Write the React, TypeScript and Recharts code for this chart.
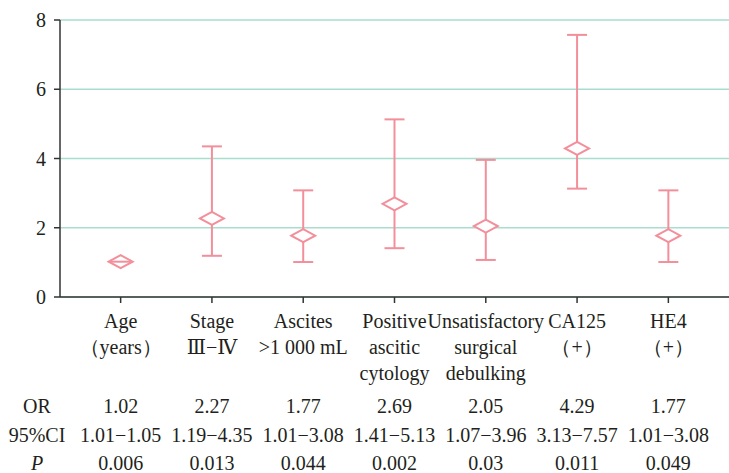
import React from "react";
import { ScatterChart, Scatter, XAxis, YAxis, CartesianGrid, ErrorBar } from "recharts";

const categories = ["Age", "Stage", "Ascites", "Positive", "Unsatisfactory", "CA125", "HE4"];
const labelLines: string[][] = [
  ["Age", "（years）"],
  ["Stage", "Ⅲ−Ⅳ"],
  ["Ascites", ">1 000 mL"],
  ["Positive", "ascitic", "cytology"],
  ["Unsatisfactory", "surgical", "debulking"],
  ["CA125", "（+）"],
  ["HE4", "（+）"],
];
const orValues = [1.02, 2.27, 1.77, 2.69, 2.05, 4.29, 1.77];
const ciLow = [1.01, 1.19, 1.01, 1.41, 1.07, 3.13, 1.01];
const ciHigh = [1.05, 4.35, 3.08, 5.13, 3.96, 7.57, 3.08];
const pValues = ["0.006", "0.013", "0.044", "0.002", "0.03", "0.011", "0.049"];
const rowLabels = ["OR", "95%CI", "P"];
const yTicks = [0, 2, 4, 6, 8];

const PINK = "#f38f9b";
const TEAL = "#a9ddd0";
const AXIS = "#333333";
const TEXT = "#231f20";
const FONT = "'Liberation Serif', 'Times New Roman', 'DejaVu Serif', serif";

const data = categories.map((c, i) => ({
  name: c,
  or: orValues[i],
  err: [orValues[i] - ciLow[i], ciHigh[i] - orValues[i]],
}));

const Diamond = (props: any) => {
  const { cx, cy, payload } = props;
  if (cx == null || cy == null) return null;
  const hw = 12;
  const hh = 6.5;
  const small = payload && payload.err && payload.err[0] + payload.err[1] < 0.1;
  return (
    <g>
      <path
        d={`M${cx - hw},${cy} L${cx},${cy - hh} L${cx + hw},${cy} L${cx},${cy + hh} Z`}
        fill="#ffffff"
        stroke={PINK}
        strokeWidth={2}
      />
      {small ? (
        <line x1={cx - 10} x2={cx + 10} y1={cy} y2={cy} stroke={PINK} strokeWidth={2} />
      ) : null}
    </g>
  );
};

const txtStyle = { fontFamily: FONT, fontSize: 20 };

const XTick = (props: any) => {
  const { x, y, payload } = props;
  const i = categories.indexOf(payload.value);
  if (i < 0) return null;
  const lines = labelLines[i];
  const rows = [
    orValues[i].toFixed(2),
    `${ciLow[i].toFixed(2)}−${ciHigh[i].toFixed(2)}`,
    pValues[i],
  ];
  const lineOffsets = [23, 49, 75];
  const rowOffsets = [108, 137, 165];
  return (
    <g>
      {lines.map((l, k) => (
        <text key={"l" + k} x={x} y={y + lineOffsets[k]} textAnchor="middle" fill={TEXT} fontFamily={FONT} fontSize={20} style={txtStyle}>
          {l}
        </text>
      ))}
      {rows.map((r, k) => (
        <text key={"r" + k} x={x} y={y + rowOffsets[k]} textAnchor="middle" fill={TEXT} fontFamily={FONT} fontSize={20} style={txtStyle}>
          {r}
        </text>
      ))}
      {i === 0
        ? rowLabels.map((r, k) => (
            <text
              key={"h" + k}
              x={37}
              y={y + rowOffsets[k]}
              textAnchor="middle"
              fill={TEXT}
              fontFamily={FONT}
              fontSize={20}
              style={{ ...txtStyle, fontStyle: k === 2 ? "italic" : "normal" }}
            >
              {r}
            </text>
          ))
        : null}
    </g>
  );
};

const YTick = (props: any) => {
  const { x, y, payload } = props;
  return (
    <text x={x} y={y} dy={7} textAnchor="end" fill={TEXT} fontFamily={FONT} fontSize={20} style={txtStyle}>
      {payload.value}
    </text>
  );
};

export default function App() {
  return (
    <div style={{ position: "absolute", left: 0, top: 0, width: 729, height: 473, background: "#fff", fontFamily: FONT }}>
      <ScatterChart width={729} height={473} data={data} margin={{ top: 20, right: 0, bottom: 0, left: 0 }}>
        <CartesianGrid horizontal vertical={false} stroke={TEAL} strokeWidth={1.5} />
        <XAxis
          dataKey="name"
          type="category"
          allowDuplicatedCategory={false}
          padding={{ left: 15, right: 15 }}
          axisLine={{ stroke: AXIS, strokeWidth: 1.5 }}
          tickLine={{ stroke: AXIS, strokeWidth: 1.5 }}
          tickSize={6}
          tickMargin={2}
          interval={0}
          height={176}
          tick={<XTick />}
        />
        <YAxis
          dataKey="or"
          type="number"
          domain={[0, 8]}
          ticks={yTicks}
          width={60}
          axisLine={{ stroke: AXIS, strokeWidth: 1.5 }}
          tickLine={{ stroke: AXIS, strokeWidth: 1.5 }}
          tickSize={6}
          tickMargin={8}
          tick={<YTick />}
        />
        <Scatter dataKey="or" isAnimationActive={false} shape={<Diamond />}>
          <ErrorBar dataKey="err" direction="y" width={10} stroke={PINK} strokeWidth={2} />
        </Scatter>
      </ScatterChart>
    </div>
  );
}
